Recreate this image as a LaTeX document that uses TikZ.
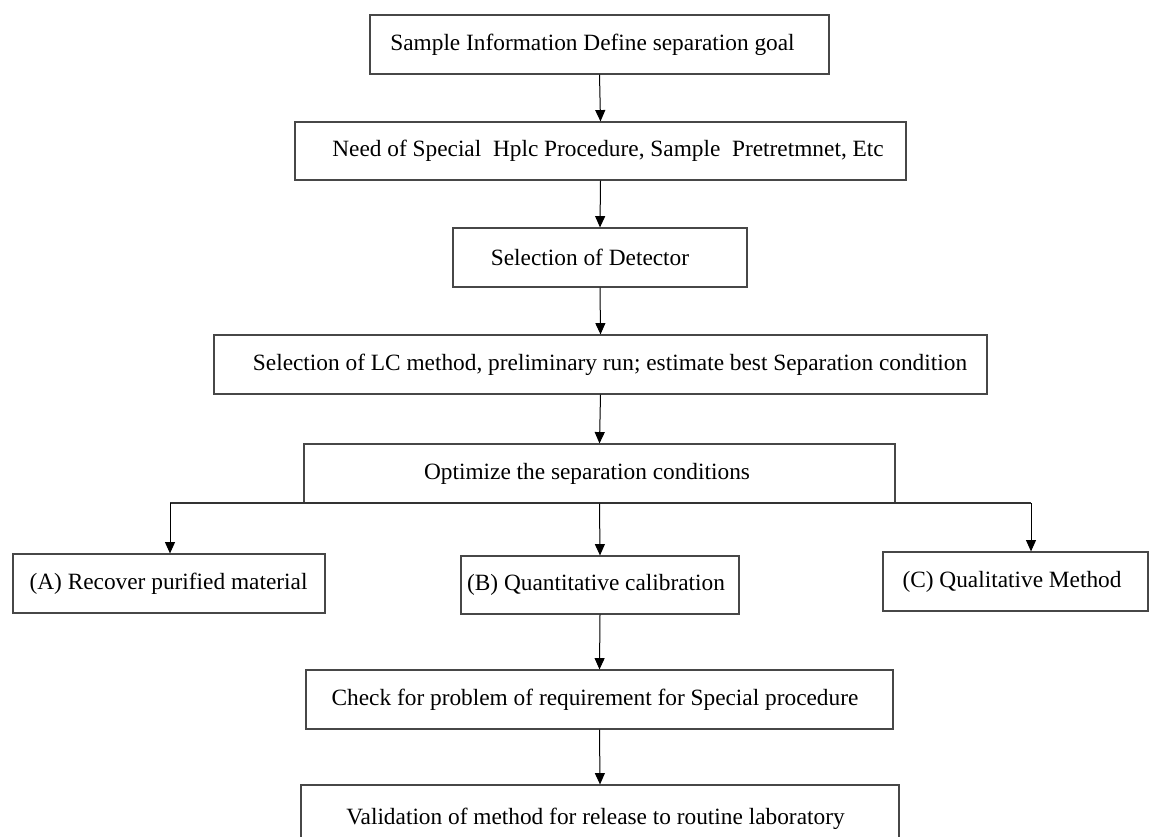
\documentclass[tikz,border=0pt]{standalone}
\usepackage{fontspec}
\setmainfont{Liberation Serif}
\usetikzlibrary{arrows.meta}
\begin{document}
\begin{tikzpicture}[x=0.75pt,y=-0.75pt,
  box/.style={draw=black!72,line width=0.9pt,rectangle,inner sep=0pt},
  txt/.style={inner sep=0pt,font=\fontsize{17.5}{20}\selectfont},
  arr/.style={draw=black,line width=0.75pt,-{Triangle[length=8.5pt,width=7.5pt]}},
  ln/.style={draw=black!80,line width=0.9pt}]
\clip (0,0) rectangle (1149,837);
\fill[white] (0,0) rectangle (1149,837);
% boxes
\node[box,minimum width=459*0.75pt,minimum height=59*0.75pt] (b1) at (599.5,44.5) {};
\node[box,minimum width=611*0.75pt,minimum height=58*0.75pt] (b2) at (600.5,151) {};
\node[box,minimum width=294*0.75pt,minimum height=59*0.75pt] (b3) at (600,257.5) {};
\node[box,minimum width=773*0.75pt,minimum height=59*0.75pt] (b4) at (600.5,364.5) {};
\node[box,minimum width=591*0.75pt,minimum height=59*0.75pt] (b5) at (599.5,473.5) {};
\node[box,minimum width=312*0.75pt,minimum height=59*0.75pt] (bA) at (169,583.5) {};
\node[box,minimum width=278*0.75pt,minimum height=58*0.75pt] (bB) at (600,585) {};
\node[box,minimum width=265*0.75pt,minimum height=59*0.75pt] (bC) at (1015.5,581.5) {};
\node[box,minimum width=587*0.75pt,minimum height=59*0.75pt] (b6) at (599.5,699.5) {};
\node[box,minimum width=598*0.75pt,minimum height=68*0.75pt] (b7) at (600,819) {};
% texts
\node[txt] (t1) at (592.5,44.5) {Sample Information Define separation goal};
\node[txt] (t2) at (608,151) {Need of Special~ Hplc Procedure, Sample~ Pretretmnet, Etc};
\node[txt] (t3) at (590,257.5) {Selection of Detector};
\node[txt] (t4) at (610,364.5) {Selection of LC method, preliminary run; estimate best Separation condition};
\node[txt] (t5) at (587,473.5) {Optimize the separation conditions};
\node[txt] (tA) at (168.5,583.5) {(A) Recover purified material};
\node[txt] (tB) at (596,585) {(B) Quantitative calibration};
\node[txt] (tC) at (1012,581.5) {(C) Qualitative Method};
\node[txt] (t6) at (595,699.5) {Check for problem of requirement for Special procedure};
\node[txt] (t7) at (595.5,819) {Validation of method for release to routine laboratory};
% connectors
\draw[arr] (b1.south) -- (b2.north);
\draw[arr] (b2.south) -- (b3.north);
\draw[arr] (b3.south) -- (b4.north);
\draw[arr] (b4.south) -- (b5.north);
\coordinate (jA) at (170,503);
\coordinate (jC) at (1031,503);
\draw[ln] (jA) -- (jC);
\draw[arr] (jA) -- (jA |- bA.north);
\draw[arr] (b5.south) -- (bB.north);
\draw[arr] (jC) -- (jC |- bC.north);
\draw[arr] (bB.south) -- (b6.north);
\draw[arr] (b6.south) -- (b7.north);
\end{tikzpicture}
\end{document}
